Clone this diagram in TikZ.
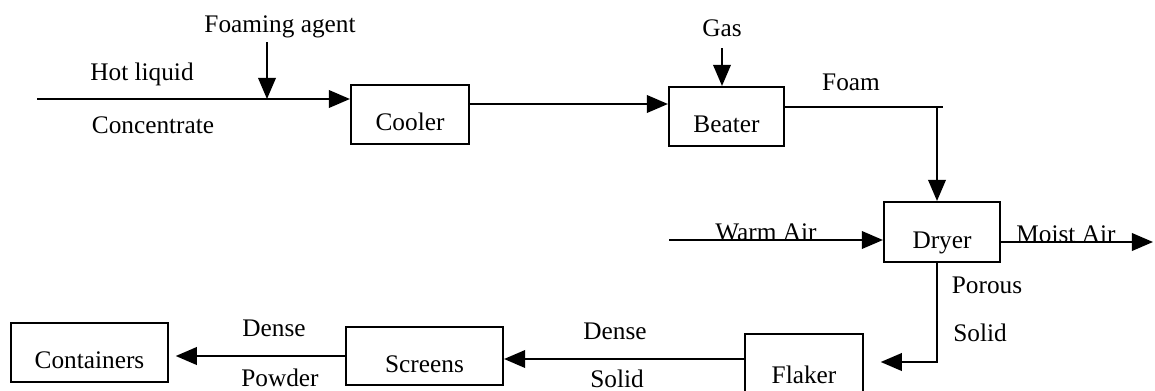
\documentclass[tikz,border=0pt]{standalone}
\usepackage{fontspec}
\setmainfont{Liberation Serif}
\usetikzlibrary{arrows.meta,positioning}
\tikzset{
    >={Triangle[length=9pt,width=7.5pt]},
    unitbox/.style={
        rectangle,
        draw,
        line width=0.9pt,
        text height=14pt,
        text depth=0pt,
        inner sep=0pt
    },
    flowlabel/.style={inner sep=0pt},
    line/.style={draw, line width=0.8pt, ->},
    font={\fontsize{10.8pt}{13}\selectfont},
}

\begin{document}
\begin{tikzpicture}[x=0.015cm, y=-0.015cm]
\clip (0,0) rectangle (1155,390);
% process units
\node[unitbox, minimum width=1.77cm, minimum height=0.885cm] (cooler) at (410,114.5) {Cooler};
\node[unitbox, minimum width=1.725cm, minimum height=0.885cm] (beater) at (726.5,116.5) {Beater};
\node[unitbox, minimum width=1.74cm, minimum height=0.9cm] (dryer) at (942,232) {Dryer};
\node[unitbox, minimum width=1.77cm, minimum height=0.99cm] (flaker) at (804,367) {Flaker};
\node[unitbox, minimum width=2.355cm, minimum height=0.87cm] (screens) at (424.5,356) {Screens};
\node[unitbox, minimum width=2.355cm, minimum height=0.885cm] (containers) at (89.5,352.5) {Containers};

% stream labels
\node[flowlabel] (hot) at (142,74) {Hot liquid};
\node[flowlabel] (conc) at (153,125) {Concentrate};
\node[flowlabel] (agent) at (280,27) {Foaming agent};
\node[flowlabel] (gas) at (722,28) {Gas};
\node[flowlabel] (foam) at (851,82) {Foam};
\node[flowlabel, anchor=base] (warmair) at (766,240) {Warm Air};
\node[flowlabel, anchor=base] (moistair) at (1066,242) {Moist Air};
\node[flowlabel] (porous) at (987,285) {Porous};
\node[flowlabel] (poroussolid) at (980,333) {Solid};
\node[flowlabel] (dense1) at (615,331) {Dense};
\node[flowlabel] (densesolid) at (617,379) {Solid};
\node[flowlabel] (dense2) at (274,328) {Dense};
\node[flowlabel] (powder) at (280,378) {Powder};

% free ends and bends
\coordinate (feed) at (37,99);
\coordinate (agentin) at (267,42);
\coordinate (mix) at (267,99);
\coordinate (coolout) at (0,104);
\coordinate (gasin) at (722,48);
\coordinate (bend) at (937,107);
\coordinate (foamend) at (943,107);
\coordinate (warmin) at (669,240);
\coordinate (moistout) at (1153,242);
\coordinate (drop) at (937,362);
\coordinate (flakeout) at (0,359);

% streams
\draw[line] (feed) -- (cooler.west |- feed);
\draw[line] (agentin) -- (mix);
\draw[line] (cooler.east |- coolout) -- (beater.west |- coolout);
\draw[line] (gasin) -- (beater.north -| gasin);
\draw[line width=0.8pt] (beater.east |- bend) -- (foamend);
\draw[line] (bend) -- (dryer.north -| bend);
\draw[line] (warmin) -- (dryer.west |- warmin);
\draw[line] (dryer.east |- moistout) -- (moistout);
\draw[line, shorten >=0.25cm] (dryer.south -| drop) -- (drop) -- (flaker.east |- drop);
\draw[line] (flaker.west |- flakeout) -- (screens.east |- flakeout);
\draw[line, shorten >=0.1cm] (screens.west) -- (containers.east |- screens.west);
\end{tikzpicture}
\end{document}
